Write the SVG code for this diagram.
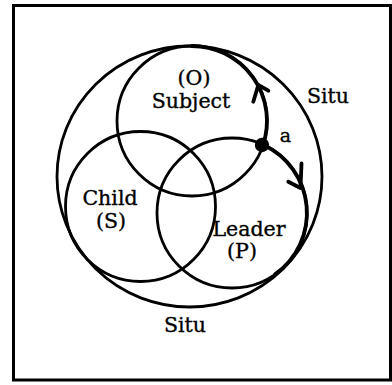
<svg xmlns="http://www.w3.org/2000/svg" width="392" height="385" viewBox="0 0 392 385">
<style>
.ln{fill:none;stroke:#000;stroke-width:2.8}
.th{fill:none;stroke:#000;stroke-width:3.8;stroke-linecap:round;stroke-linejoin:round}
.lb{font-family:"DejaVu Serif","Liberation Serif",serif;font-size:20.5px;fill:#000;stroke:#000;stroke-width:0.35;text-anchor:middle}
</style>
<rect width="392" height="385" fill="#fff"/>
<rect id="frame" x="13.5" y="5.5" width="377" height="374.5" fill="none" stroke="#000" stroke-width="3"/>
<g id="situ">
<ellipse class="ln" cx="189.5" cy="176.5" rx="132.5" ry="130.5"/>
<text class="lb" x="328" y="103">Situ</text>
<text class="lb" x="185" y="332">Situ</text>
</g>
<g id="subject">
<circle class="ln" cx="192" cy="121" r="75"/>
<text class="lb" x="194" y="85">(O)</text>
<text class="lb" x="191" y="108">Subject</text>
</g>
<g id="child">
<circle class="ln" cx="140.5" cy="206.5" r="75"/>
<text class="lb" x="110" y="205">Child</text>
<text class="lb" x="111" y="228">(S)</text>
</g>
<g id="leader">
<circle class="ln" cx="232" cy="213" r="75"/>
<text class="lb" x="249" y="236">Leader</text>
<text class="lb" x="242" y="258">(P)</text>
</g>
<g id="connectors">
<path class="th" d="M263.1,144.8 A75,75 0 0 0 192,46"/>
<polyline class="th" points="253.3,101.7 258.3,85 268.3,90.7"/>
<path class="th" d="M263.1,144.8 A75,75 0 0 1 275,274.4"/>
<polyline class="th" points="301.5,163.3 300.5,188 288.3,181.7"/>
</g>
<g id="point-a">
<circle cx="262" cy="145" r="7.2" fill="#000"/>
<text class="lb" x="285.5" y="142" style="font-size:19px">a</text>
</g>
</svg>
